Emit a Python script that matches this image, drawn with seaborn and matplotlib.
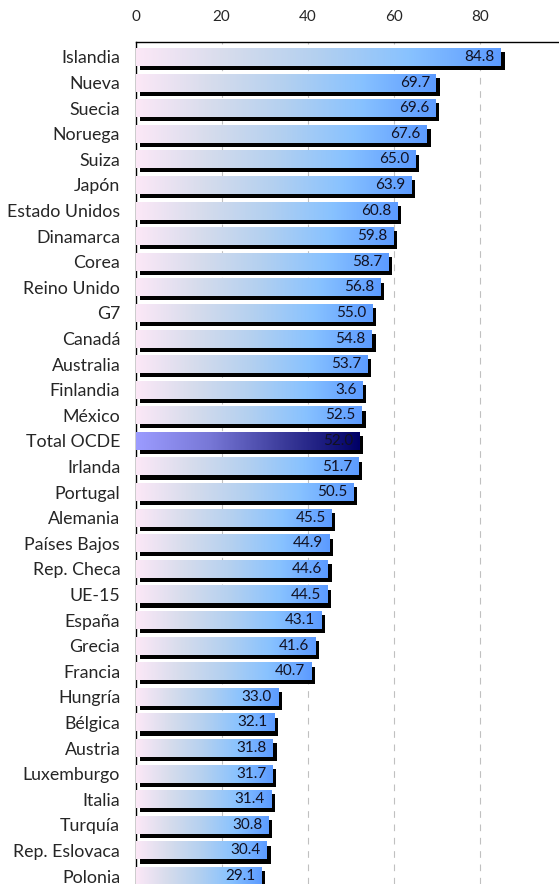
import numpy as np
import pandas as pd
import seaborn as sns
import matplotlib.pyplot as plt
import matplotlib.patheffects as pe
from matplotlib.colors import LinearSegmentedColormap

# DATA
paises = ['Islandia', 'Nueva', 'Suecia', 'Noruega', 'Suiza', 'Japón', 'Estado Unidos',
          'Dinamarca', 'Corea', 'Reino Unido', 'G7', 'Canadá', 'Australia', 'Finlandia',
          'México', 'Total OCDE', 'Irlanda', 'Portugal', 'Alemania', 'Países Bajos',
          'Rep. Checa', 'UE-15', 'España', 'Grecia', 'Francia', 'Hungría', 'Bélgica',
          'Austria', 'Luxemburgo', 'Italia', 'Turquía', 'Rep. Eslovaca', 'Polonia']
valores = [84.8, 69.7, 69.6, 67.6, 65.0, 63.9, 60.8, 59.8, 58.7, 56.8, 55.0, 54.8, 53.7,
           52.6, 52.5, 52.0, 51.7, 50.5, 45.5, 44.9, 44.6, 44.5, 43.1, 41.6, 40.7, 33.0,
           32.1, 31.8, 31.7, 31.4, 30.8, 30.4, 29.1]
etiquetas = ['84.8', '69.7', '69.6', '67.6', '65.0', '63.9', '60.8', '59.8', '58.7', '56.8',
             '55.0', '54.8', '53.7', '3.6', '52.5', '52.0', '51.7', '50.5', '45.5', '44.9',
             '44.6', '44.5', '43.1', '41.6', '40.7', '33.0', '32.1', '31.8', '31.7', '31.4',
             '30.8', '30.4', '29.1']
destacado = 'Total OCDE'
ticks_x = [0, 20, 40, 60, 80]

df = pd.DataFrame({'pais': paises, 'valor': valores})

sns.set_style('white')
plt.rcParams['font.family'] = ['Lato', 'DejaVu Sans']

cmap_normal = LinearSegmentedColormap.from_list(
    'normal', ['#FCE8F7', '#D6DCEC', '#B3D0F0', '#88C2FF', '#5C9BFF'])
cmap_total = LinearSegmentedColormap.from_list(
    'total', ['#9C9CFF', '#7777D6', '#3A3A99', '#000066'])

fig = plt.figure(figsize=(5.59, 8.84), dpi=100)
ax = fig.add_axes([0.2424, 0.0, 0.7576, 0.9525])

sns.barplot(data=df, x='valor', y='pais', orient='h', width=0.70, ax=ax, color='#5C9BFF')

grad = np.linspace(0, 1, 256).reshape(1, -1)
for patch, pais, etiqueta in zip(ax.patches, paises, etiquetas):
    x0, y0 = patch.get_x(), patch.get_y()
    w, h = patch.get_width(), patch.get_height()
    patch.set_facecolor('none')
    patch.set_edgecolor('none')
    patch.set_zorder(2)
    patch.set_path_effects([pe.SimplePatchShadow(offset=(3, -3), shadow_rgbFace='black', alpha=1.0)])
    cmap = cmap_total if pais == destacado else cmap_normal
    ax.imshow(grad, extent=[x0, x0 + w, y0 + h, y0], aspect='auto', cmap=cmap, zorder=3,
              interpolation='bicubic')
    ax.text(x0 + w - 1.3, y0 + h / 2, etiqueta, ha='right', va='center',
            fontsize=11, color='#111122', zorder=4)

ax.set_xlim(0, 98.4)
ax.set_ylim(32.31, -0.586)
ax.set_xticks(ticks_x)
ax.xaxis.tick_top()
ax.tick_params(axis='x', length=0, pad=13, labelsize=11)
ax.tick_params(axis='y', length=0, pad=11, labelsize=12.8)
ax.set_xlabel('')
ax.set_ylabel('')
ax.xaxis.grid(True, linestyle=(0, (6, 6)), color='#C0C0C0', linewidth=0.8)
ax.set_axisbelow(True)
for side in ['right', 'bottom']:
    ax.spines[side].set_visible(False)
for side in ['left', 'top']:
    ax.spines[side].set_color('black')
    ax.spines[side].set_linewidth(1.0)

plt.savefig('out.png', dpi=100)
